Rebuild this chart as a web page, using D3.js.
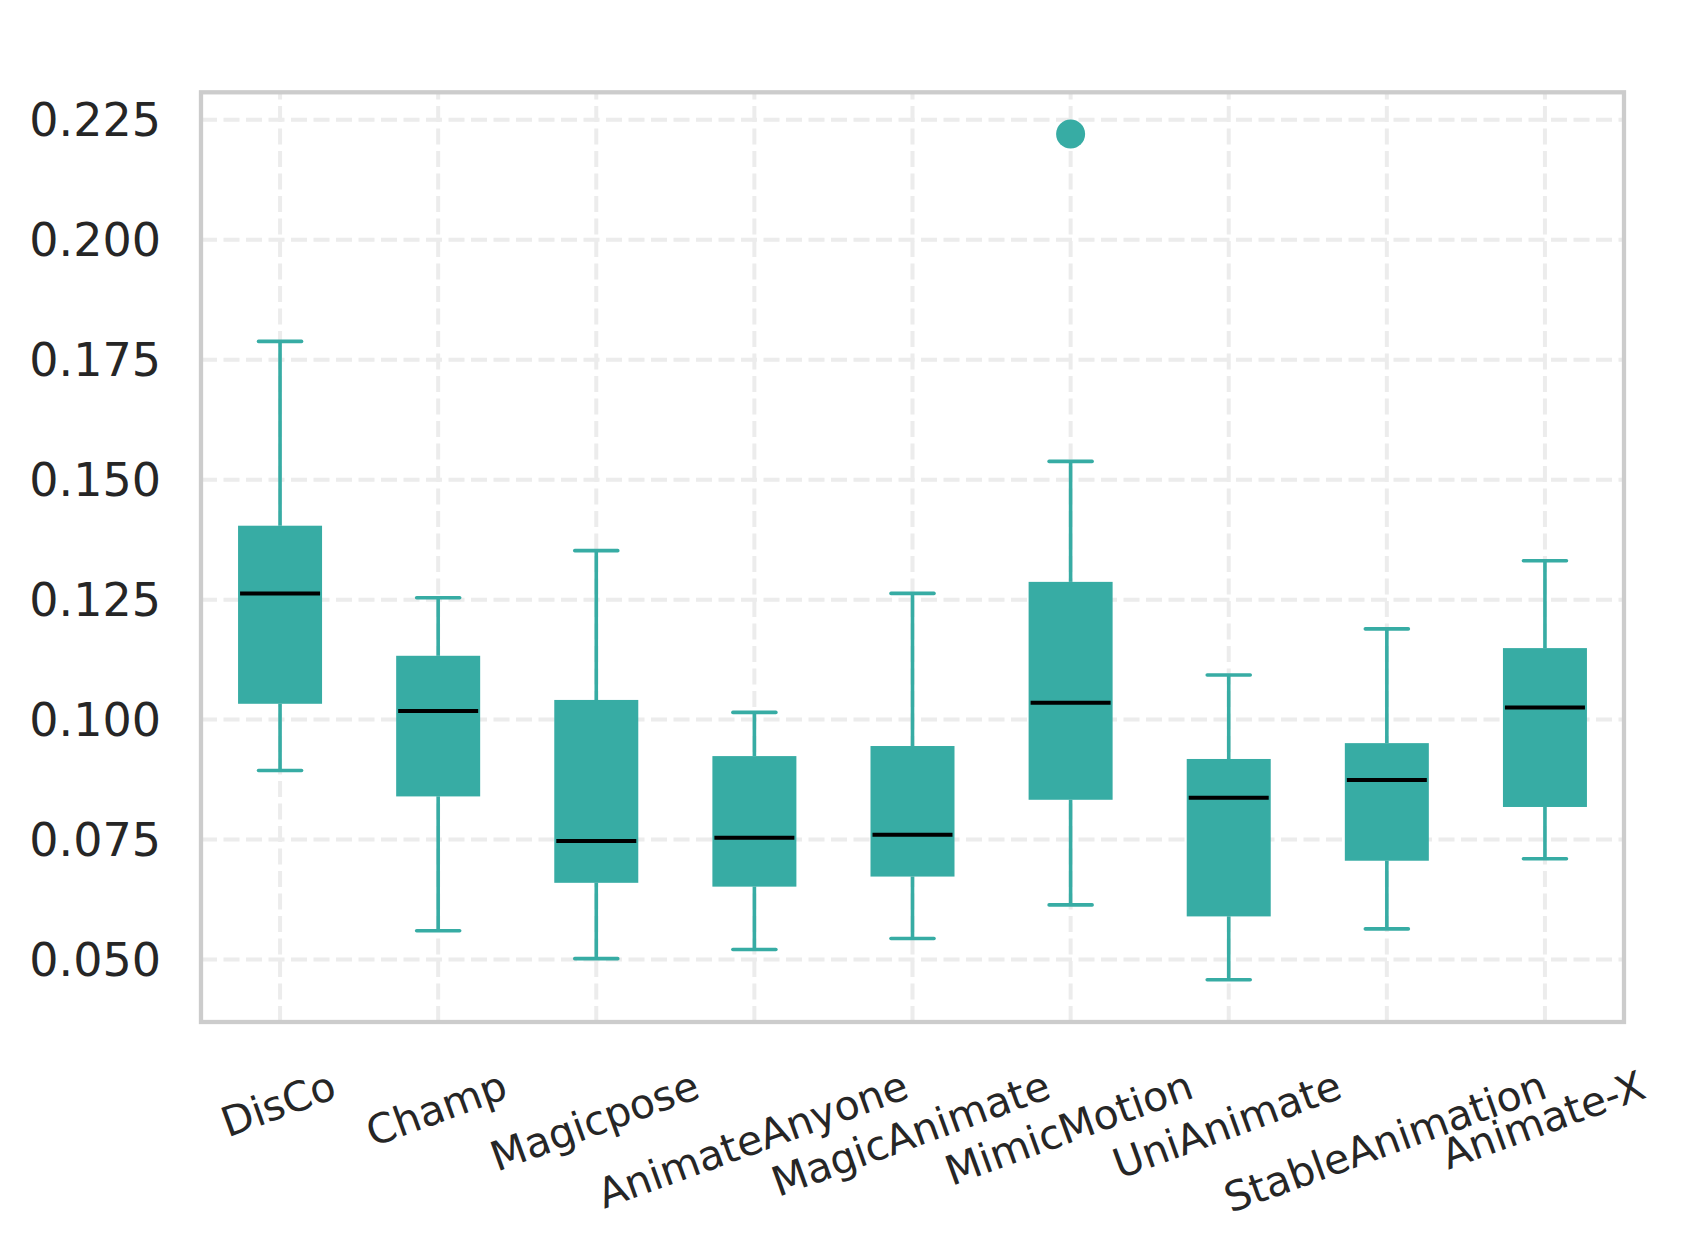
<!DOCTYPE html>
<html>
<head>
<meta charset="utf-8">
<script src="https://cdn.jsdelivr.net/npm/d3@7"></script>
<style>
  body { margin: 0; background: #fff; }
  text { font-family: "DejaVu Sans", sans-serif; fill: #262626; }
</style>
</head>
<body>
<svg id="chart" width="1682" height="1247"></svg>
<script>
// box stats
let categories = ["DisCo", "Champ", "Magicpose", "AnimateAnyone", "MagicAnimate",
                  "MimicMotion", "UniAnimate", "StableAnimation", "Animate-X"];
let whiskerLow  = [0.0894, 0.0560, 0.0502, 0.0521, 0.0544, 0.0614, 0.0458, 0.0564, 0.0710];
let q1          = [0.1033, 0.0840, 0.0660, 0.0652, 0.0673, 0.0833, 0.0590, 0.0706, 0.0818];
let medians     = [0.1263, 0.1018, 0.0747, 0.0754, 0.0760, 0.1035, 0.0837, 0.0874, 0.1025];
let q3          = [0.1404, 0.1133, 0.1041, 0.0924, 0.0945, 0.1287, 0.0918, 0.0951, 0.1149];
let whiskerHigh = [0.1788, 0.1254, 0.1352, 0.1015, 0.1263, 0.1538, 0.1093, 0.1189, 0.1331];
let outlierCats = ["MimicMotion"];
let outlierVals = [0.2220];
let yTicks = [0.050, 0.075, 0.100, 0.125, 0.150, 0.175, 0.200, 0.225];

let teal = "#37aca4";

let svg = d3.select("#chart");
let plotLeft = 201, plotRight = 1624, plotTop = 92.3, plotBottom = 1022;

let xScale = d3.scalePoint().domain(categories).range([plotLeft, plotRight]).padding(0.5);
let yScale = d3.scaleLinear().domain([0.0370, 0.2307]).range([plotBottom, plotTop]);

svg.append("rect").attr("width", 1682).attr("height", 1247).attr("fill", "#fff");

// grid
svg.append("g")
    .selectAll("line")
    .data(yTicks)
    .enter()
    .append("line")
    .attr("x1", plotLeft).attr("x2", plotRight)
    .attr("y1", d => yScale(d)).attr("y2", d => yScale(d))
    .attr("stroke", "#ececec")
    .attr("stroke-width", 4)
    .attr("stroke-dasharray", "16,6.5");

svg.append("g")
    .selectAll("line")
    .data(categories)
    .enter()
    .append("line")
    .attr("x1", d => xScale(d)).attr("x2", d => xScale(d))
    .attr("y1", plotBottom).attr("y2", plotTop)
    .attr("stroke", "#ececec")
    .attr("stroke-width", 4)
    .attr("stroke-dasharray", "16,6.5");

// boxes
let boxes = categories.map((c, i) => ({
    name: c, lo: whiskerLow[i], q1: q1[i], med: medians[i], q3: q3[i], hi: whiskerHigh[i]
}));

let boxW = 84, capW = 43, medW = 80;
let g = svg.append("g");

let b = g.selectAll("g.box").data(boxes).enter().append("g").attr("class", "box");

b.append("line")
    .attr("x1", d => xScale(d.name)).attr("x2", d => xScale(d.name))
    .attr("y1", d => yScale(d.hi)).attr("y2", d => yScale(d.q3))
    .attr("stroke", teal).attr("stroke-width", 3.6);

b.append("line")
    .attr("x1", d => xScale(d.name)).attr("x2", d => xScale(d.name))
    .attr("y1", d => yScale(d.q1)).attr("y2", d => yScale(d.lo))
    .attr("stroke", teal).attr("stroke-width", 3.6);

b.append("line")
    .attr("x1", d => xScale(d.name) - capW / 2).attr("x2", d => xScale(d.name) + capW / 2)
    .attr("y1", d => yScale(d.hi)).attr("y2", d => yScale(d.hi))
    .attr("stroke", teal).attr("stroke-width", 3.6).attr("stroke-linecap", "round");

b.append("line")
    .attr("x1", d => xScale(d.name) - capW / 2).attr("x2", d => xScale(d.name) + capW / 2)
    .attr("y1", d => yScale(d.lo)).attr("y2", d => yScale(d.lo))
    .attr("stroke", teal).attr("stroke-width", 3.6).attr("stroke-linecap", "round");

b.append("rect")
    .attr("x", d => xScale(d.name) - boxW / 2)
    .attr("width", boxW)
    .attr("y", d => yScale(d.q3))
    .attr("height", d => yScale(d.q1) - yScale(d.q3))
    .attr("fill", teal);

b.append("line")
    .attr("x1", d => xScale(d.name) - medW / 2).attr("x2", d => xScale(d.name) + medW / 2)
    .attr("y1", d => yScale(d.med)).attr("y2", d => yScale(d.med))
    .attr("stroke", "#000").attr("stroke-width", 4);

// outliers
g.selectAll("circle")
    .data(outlierVals)
    .enter()
    .append("circle")
    .attr("cx", (d, i) => xScale(outlierCats[i]))
    .attr("cy", d => yScale(d))
    .attr("r", 14.5)
    .attr("fill", teal);

// frame
svg.append("rect")
    .attr("x", plotLeft).attr("y", plotTop)
    .attr("width", plotRight - plotLeft).attr("height", plotBottom - plotTop)
    .attr("fill", "none")
    .attr("stroke", "#cccccc")
    .attr("stroke-width", 4.3);

// y tick labels
svg.append("g")
    .selectAll("text")
    .data(yTicks)
    .enter()
    .append("text")
    .attr("x", 161)
    .attr("y", d => yScale(d))
    .attr("dy", "0.365em")
    .attr("text-anchor", "end")
    .style("font-size", "46px")
    .text(d3.format(".3f"));

// x tick labels, rotated 20deg, top of rotated box lined up
let fs = 41, ang = 20 * Math.PI / 180, labelTop = 1069;
svg.append("g")
    .selectAll("text")
    .data(categories)
    .enter()
    .append("text")
    .attr("text-anchor", "middle")
    .attr("dy", "0.365em")
    .style("font-size", fs + "px")
    .text(d => d)
    .each(function(d) {
        let w = this.getComputedTextLength();
        let cy = labelTop + (w / 2) * Math.sin(ang) + 0.365 * fs * Math.cos(ang);
        d3.select(this).attr("transform", `translate(${xScale(d) - 2}, ${cy}) rotate(-20)`);
    });
</script>
</body>
</html>
